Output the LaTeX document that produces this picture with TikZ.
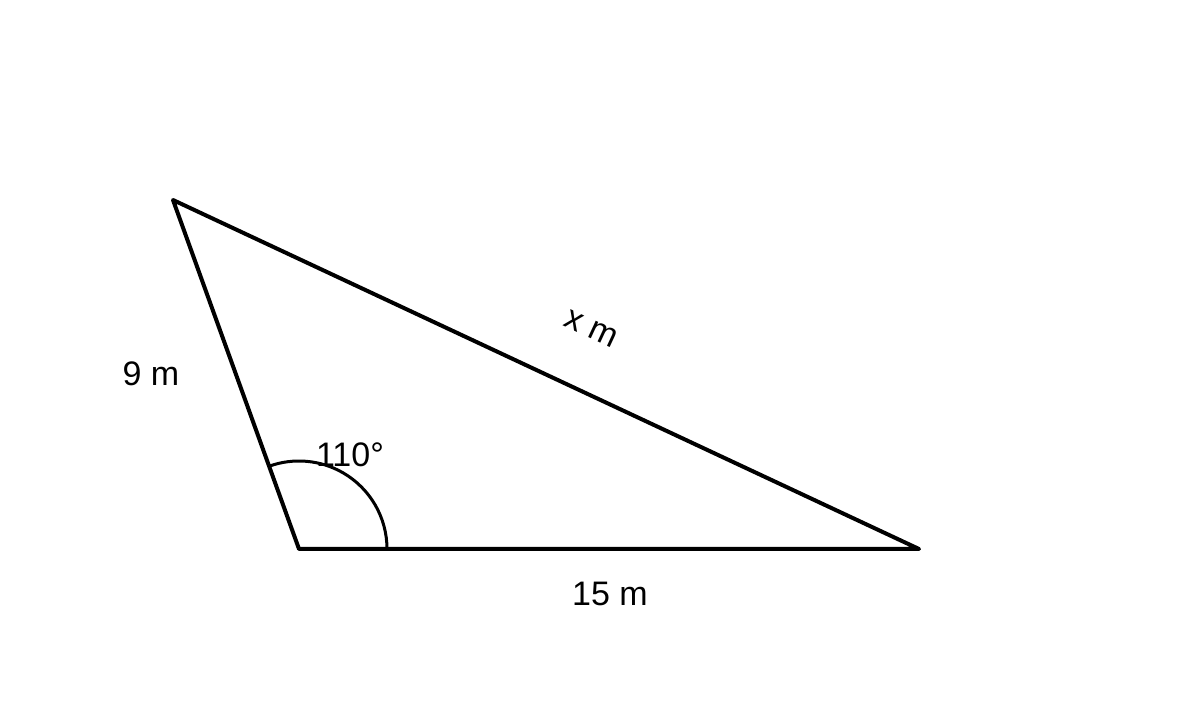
\documentclass[tikz,border=0pt]{standalone}
\usepackage{fontspec}
\setmainfont{Liberation Sans}
\usetikzlibrary{calc}
\begin{document}
\begin{tikzpicture}[x=1pt,y=1pt,
  side/.style={line width=4pt,line join=round,line cap=round},
  anglearc/.style={line width=3pt},
  lbl/.style={font=\fontsize{34}{40}\selectfont,inner sep=0pt}]
\useasboundingbox (0,0) rectangle (1200,720);
\coordinate (A) at (299,171);
\coordinate (B) at (919,171);
\coordinate (C) at (173,520);
\draw[side] (A) -- (B) -- (C) -- cycle;
\draw[anglearc] ($(A)+(88,0)$) arc[start angle=0,end angle=110,radius=88];
\node[lbl] (l9) at (151,346) {9 m};
\node[lbl,rotate=-25] (lx) at (591,391) {x m};
\node[lbl] (la) at (350,265) {110°};
\node[lbl] (l15) at (610,126) {15 m};
\end{tikzpicture}
\end{document}
